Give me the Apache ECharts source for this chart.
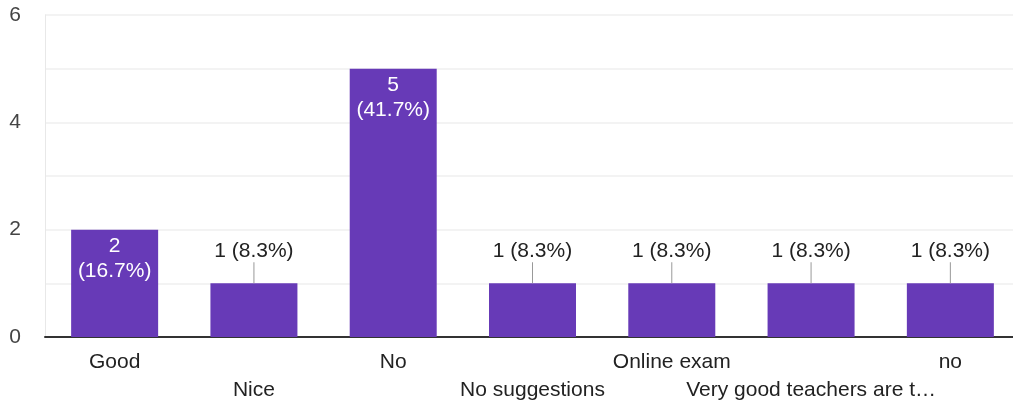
<!DOCTYPE html>
<html><head><meta charset="utf-8">
<script src="https://cdn.jsdelivr.net/npm/echarts@6/dist/echarts.min.js"></script>
<style>html,body{margin:0;padding:0;background:#fff;overflow:hidden}#c{width:1020px;height:408px}</style>
</head><body><div id="c"></div>
<script>
const categories = ['Good', 'Nice', 'No', 'No suggestions', 'Online exam', 'Very good teachers are t…', 'no'];
const counts = [2, 1, 5, 1, 1, 1, 1];
const percents = ['16.7%', '8.3%', '41.7%', '8.3%', '8.3%', '8.3%', '8.3%'];
const yTicks = [0, 2, 4, 6];

const FONT = 'Arial, "Liberation Sans", sans-serif';
const FS = 21;
const data = counts.map((v, i) => {
  if (v >= 2) {
    return { value: v, label: { show: true, position: 'insideTop', distance: 4, color: '#fff',
      formatter: v + '\n(' + percents[i] + ')', lineHeight: 25, fontSize: FS, fontFamily: FONT } };
  }
  return { value: v, label: { show: true, position: 'top', distance: 0, color: '#222',
    formatter: '{t|' + v + ' (' + percents[i] + ')}\n{l|}',
    rich: { t: { fontSize: FS, fontFamily: FONT, color: '#222', lineHeight: 22, align: 'center' },
            l: { width: 1, height: 21, backgroundColor: '#999', align: 'center' } } } };
});

const chart = echarts.init(document.getElementById('c'));
chart.setOption({
  animation: false,
  grid: { left: 45, top: 15, right: 0, height: 322, containLabel: false },
  xAxis: {
    type: 'category', data: categories,
    axisLine: { lineStyle: { color: '#333', width: 2 } },
    axisTick: { show: false },
    axisLabel: { interval: 0, fontSize: FS, fontFamily: FONT, color: '#222', margin: 11, lineHeight: 28,
      formatter: (v, i) => (i % 2 === 1 ? '\n' + v : v) }
  },
  yAxis: {
    type: 'value', min: 0, max: 6, interval: 1,
    axisLine: { show: true, lineStyle: { color: '#e8e8e8' } },
    axisTick: { show: false },
    splitLine: { lineStyle: { color: '#efefef', width: 1.5 } },
    axisLabel: { fontSize: FS, fontFamily: FONT, color: '#444', margin: 24,
      formatter: v => (yTicks.includes(v) ? String(v) : '') }
  },
  series: [{
    type: 'bar', data: data, barWidth: 87,
    itemStyle: { color: '#673ab7' }
  }]
});
</script></body></html>
